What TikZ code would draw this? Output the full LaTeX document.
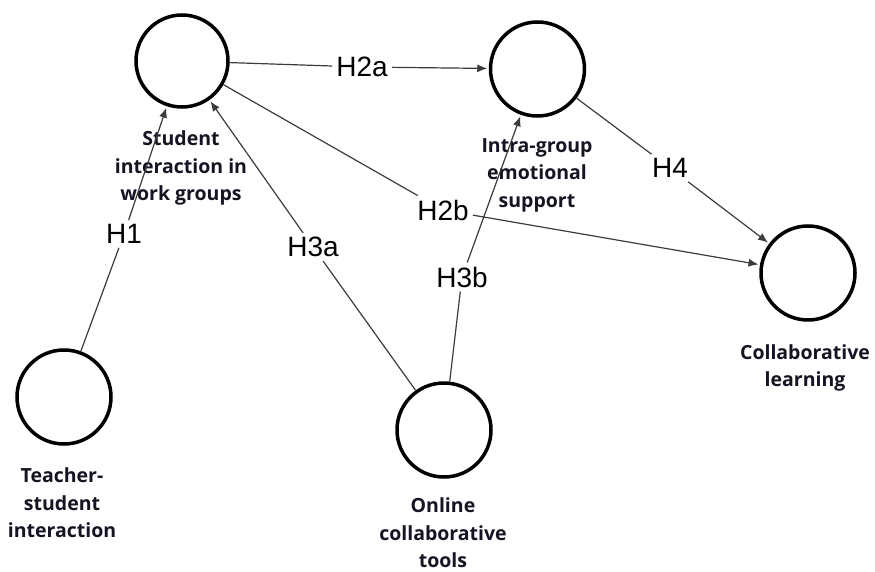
\documentclass[tikz,border=0pt]{standalone}
\usepackage{fontspec}
\newfontfamily\lblfont{Open Sans}
\newfontfamily\hfont{Liberation Sans}
\usetikzlibrary{arrows.meta}
\definecolor{edgegray}{RGB}{60,60,60}
\definecolor{lbltext}{RGB}{20,20,35}
\begin{document}
\begin{tikzpicture}[x=1pt,y=-1pt,
  construct/.style={circle,draw=black,line width=3.5pt,minimum size=94pt,inner sep=0pt},
  nlabel/.style={font=\lblfont\bfseries\fontsize{19.5}{27.5}\selectfont,align=center,text=lbltext,inner sep=0pt},
  hyp/.style={font=\hfont\fontsize{28}{30}\selectfont,inner sep=4pt,text=black},
  conn/.style={draw=edgegray,line width=1.2pt},
  arr/.style={conn,-{Latex[length=10pt,width=8pt]},shorten >=1.5pt}]
\fill[white] (0,0) rectangle (875,572);
\useasboundingbox (0,0) rectangle (875,572);
% constructs
\node[construct,minimum size=92pt] (student) at (182,61) {};
\node[construct] (intra) at (537.5,69) {};
\node[construct] (collab) at (808,273) {};
\node[construct] (teacher) at (64,397) {};
\node[construct] (online) at (444,430) {};
% construct labels
\node[nlabel] (lstudent) at (181,168) {Student\\interaction in\\work groups};
\node[nlabel] (lintra) at (537,175) {Intra-group\\emotional\\support};
\node[nlabel] (lcollab) at (805,368) {Collaborative\\learning};
\node[nlabel] (lteacher) at (62,503) {Teacher-\\student\\interaction};
\node[nlabel] (lonline) at (443,533) {Online\\collaborative\\tools};
% hypothesis labels
\node[hyp] (h1) at (124,234) {H1};
\node[hyp] (h2a) at (362,67) {H2a};
\node[hyp] (h2b) at (443,210) {H2b};
\node[hyp] (h3a) at (313,247) {H3a};
\node[hyp] (h3b) at (462,277) {H3b};
\node[hyp] (h4) at (670,168) {H4};
% connectors
\draw[conn] (teacher) -- (h1);
\draw[arr] (h1) -- (student);
\draw[conn] (student) -- (h2a);
\draw[arr] (h2a) -- (intra);
\draw[conn] (student) -- (h2b);
\draw[arr] (h2b) -- (collab);
\draw[conn] (online) -- (h3a);
\draw[arr] (h3a) -- (student);
\draw[conn] (online) -- (h3b);
\draw[arr] (h3b) -- (intra);
\draw[conn] (intra) -- (h4);
\draw[arr] (h4) -- (collab);
\end{tikzpicture}
\end{document}
